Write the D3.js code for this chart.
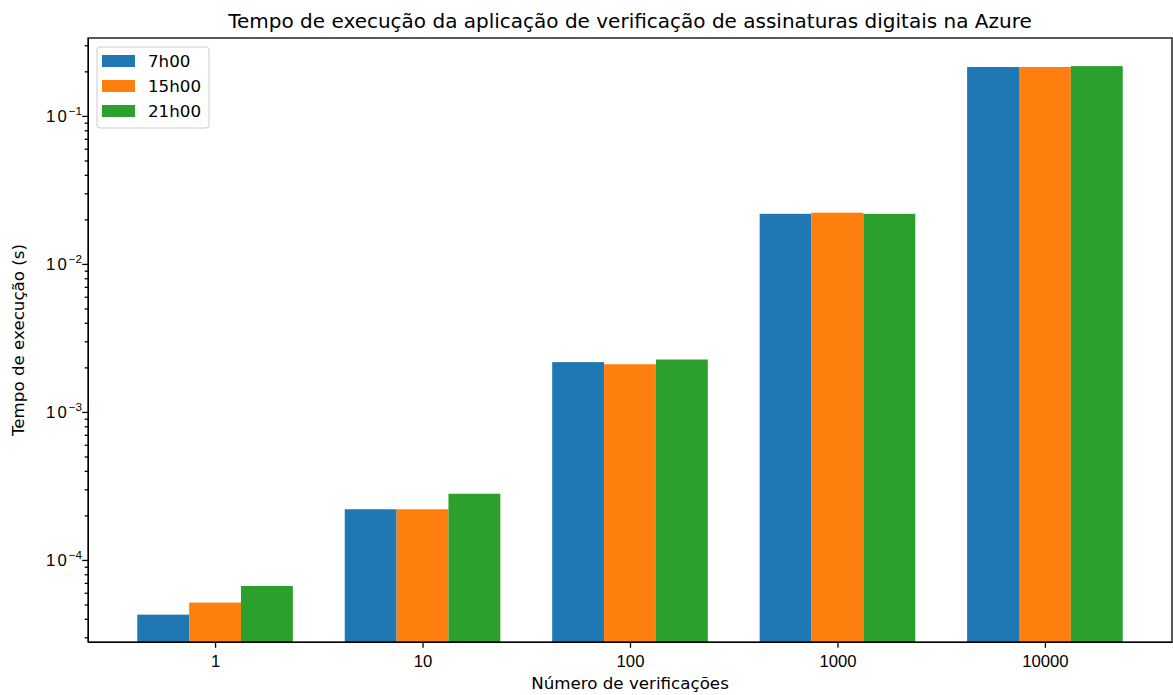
<!DOCTYPE html>
<html>
<head>
<meta charset="utf-8">
<script src="https://cdn.jsdelivr.net/npm/d3@7"></script>
<style>
  body { margin: 0; background: #fff; }
  svg { font-family: "DejaVu Sans", sans-serif; }
</style>
</head>
<body>
<div id="chart"></div>
<script>
const categories = ['1', '10', '100', '1000', '10000'];
const seriesNames = ['7h00', '15h00', '21h00'];
const t7 = [4.27e-5, 2.2e-4, 2.17e-3, 0.0218, 0.214];
const t15 = [5.15e-5, 2.2e-4, 2.1e-3, 0.0222, 0.214];
const t21 = [6.67e-5, 2.8e-4, 2.26e-3, 0.0218, 0.217];
const majorTicks = [1e-4, 1e-3, 1e-2, 1e-1];
const majorExp = ['−4', '−3', '−2', '−1'];
const yDomain = [2.79e-5, 0.336];
const colors = ['#1f77b4', '#ff7f0e', '#2ca02c'];

const values = [t7, t15, t21];

const W = 1173, H = 695;
const margin = { left: 88, right: 1, top: 38, bottom: 53 };
const width = W - margin.left - margin.right;
const height = H - margin.top - margin.bottom;
const fs = '16.7px';

const svg = d3.select('#chart').append('svg')
  .attr('width', W)
  .attr('height', H);

const g = svg.append('g')
  .attr('transform', `translate(${margin.left}, ${margin.top})`);

const barW = 0.25;
const x = d3.scaleLinear()
  .domain([-0.6125, categories.length - 1 + 0.6125])
  .range([0, width]);

const y = d3.scaleLog()
  .domain(yDomain)
  .range([height, 0]);

// bars
seriesNames.forEach((s, si) => {
  g.selectAll(`.bar-${si}`)
    .data(values[si])
    .enter()
    .append('rect')
      .attr('class', `bar-${si}`)
      .attr('x', (d, i) => x(i + (si - 1) * barW - barW / 2))
      .attr('width', x(barW) - x(0))
      .attr('y', d => y(d))
      .attr('height', d => height - y(d))
      .attr('fill', colors[si]);
});

// minor ticks
const minorTicks = [];
for (let e = -5; e <= -1; e++) {
  for (let m = 2; m <= 9; m++) {
    const v = m * Math.pow(10, e);
    if (v >= yDomain[0] && v <= yDomain[1]) minorTicks.push(v);
  }
}

g.append('g')
  .attr('class', 'y minor')
  .call(d3.axisLeft(y).tickValues(minorTicks).tickSize(3.3).tickFormat(''))
  .call(a => a.select('.domain').remove());

const yAxis = g.append('g')
  .attr('class', 'y axis')
  .call(d3.axisLeft(y).tickValues(majorTicks).tickSize(5.8).tickSizeOuter(0).tickFormat(''));

yAxis.selectAll('.tick').each(function(d, i) {
  const t = d3.select(this).append('text')
    .attr('x', -6)
    .attr('dy', '0.36em')
    .attr('text-anchor', 'end')
    .attr('fill', '#000')
    .attr('font-size', fs);
  t.append('tspan').attr('letter-spacing', '2px').text('10');
  t.append('tspan')
    .attr('font-size', '11.7px')
    .attr('dy', '-0.6em')
    .text(majorExp[i]);
});

const xAxis = g.append('g')
  .attr('class', 'x axis')
  .attr('transform', `translate(0, ${height})`)
  .call(d3.axisBottom(x)
    .tickValues(d3.range(categories.length))
    .tickSize(5.8)
    .tickSizeOuter(0)
    .tickFormat(i => categories[i]));

xAxis.selectAll('text')
  .attr('font-size', fs)
  .attr('fill', '#000')
  .attr('y', 25)
  .attr('dy', null);

// spines
g.append('rect')
  .attr('width', width)
  .attr('height', height)
  .attr('fill', 'none')
  .attr('stroke', '#000')
  .attr('stroke-width', 1.3);

svg.selectAll('.tick line').attr('stroke-width', 1.3);

// labels
svg.append('text')
  .attr('x', margin.left + width / 2)
  .attr('y', 28)
  .attr('text-anchor', 'middle')
  .attr('font-size', '20px')
  .text('Tempo de execução da aplicação de verificação de assinaturas digitais na Azure');

svg.append('text')
  .attr('x', margin.left + width / 2)
  .attr('y', 689)
  .attr('text-anchor', 'middle')
  .attr('font-size', fs)
  .text('Número de verificações');

svg.append('text')
  .attr('transform', `translate(24, ${margin.top + height / 2}) rotate(-90)`)
  .attr('text-anchor', 'middle')
  .attr('font-size', fs)
  .text('Tempo de execução (s)');

// legend
const legend = g.append('g')
  .attr('transform', 'translate(9, 9)');

legend.append('rect')
  .attr('width', 112)
  .attr('height', 81)
  .attr('rx', 3)
  .attr('fill', '#fff')
  .attr('fill-opacity', 0.8)
  .attr('stroke', '#ccc');

const legendRow = legend.selectAll('.legend-row')
  .data(seriesNames)
  .enter()
  .append('g')
    .attr('class', 'legend-row')
    .attr('transform', (d, i) => `translate(5, ${8 + i * 25})`);

legendRow.append('rect')
  .attr('width', 33)
  .attr('height', 12)
  .attr('fill', (d, i) => colors[i]);

legendRow.append('text')
  .attr('x', 46)
  .attr('y', 12)
  .attr('font-size', fs)
  .text(d => d);
</script>
</body>
</html>
